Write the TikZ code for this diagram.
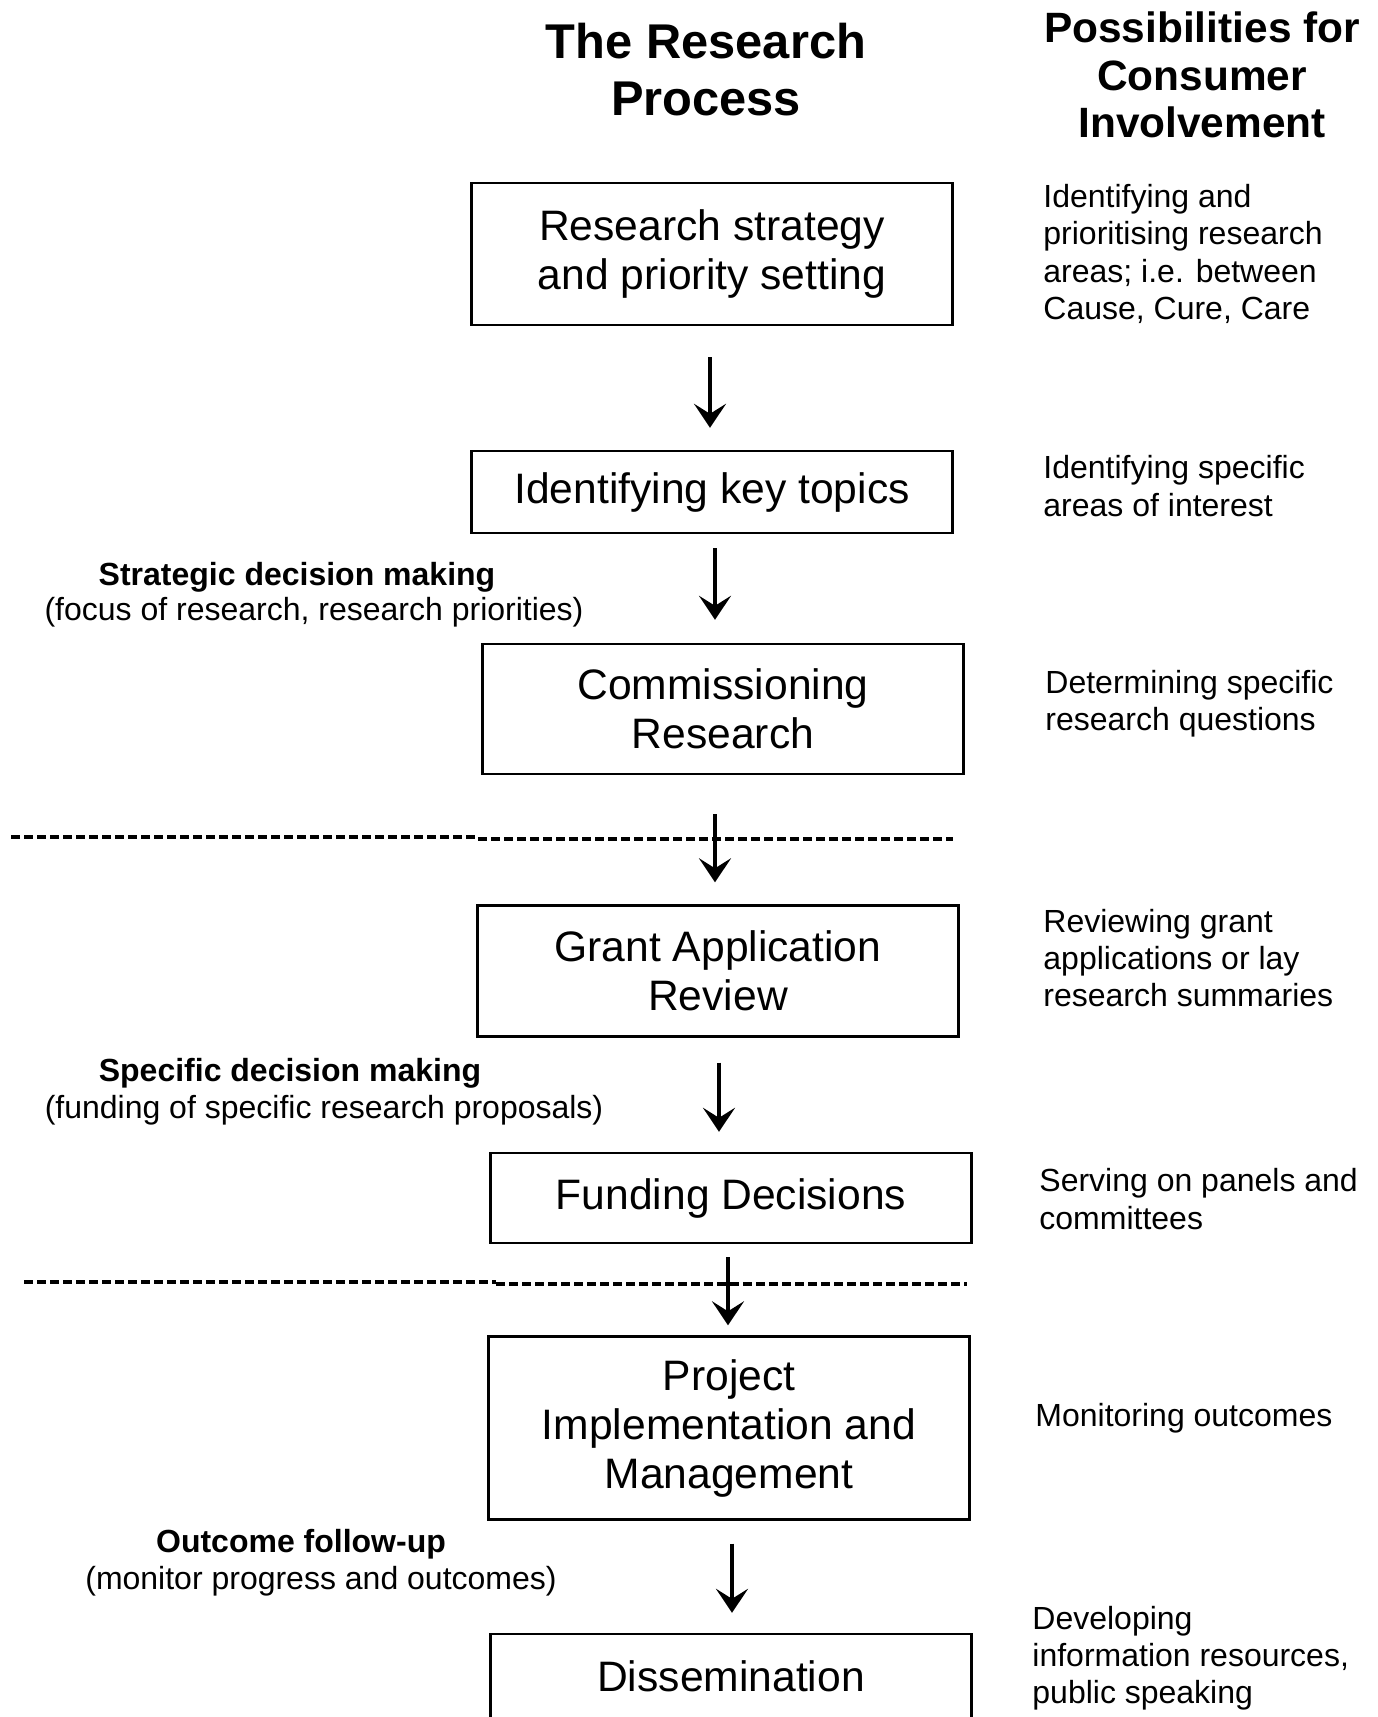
\documentclass[tikz,border=0pt]{standalone}
\usepackage{fontspec}
\setmainfont{Liberation Sans}
\usetikzlibrary{arrows.meta}
\tikzset{>={Stealth[length=12pt,width=16pt,inset=5pt]}}

\begin{document}
\begin{tikzpicture}[x=0.5pt,y=-0.5pt,
  stage/.style={draw, line width=1.2pt, minimum width=240.5pt, inner sep=0pt,
    align=center, font=\fontsize{21.3}{24.5}\selectfont},
  involve/.style={anchor=west, align=left, inner sep=0pt,
    font=\fontsize{16}{18.6}\selectfont},
  decision/.style={inner sep=0pt, font=\fontsize{16}{17.5}\selectfont},
  decisionhead/.style={decision, font=\bfseries\fontsize{16}{17.5}\selectfont},
  heading/.style={align=center, inner sep=0pt, font=\bfseries\fontsize{24.4}{28.5}\selectfont},
  flow/.style={->, line width=1.7pt},
  split/.style={line width=1.6pt, dash pattern=on 4.5pt off 2pt}]

\useasboundingbox (0,0) rectangle (1377,1717);

\node[heading] (title) at (706,70) {The Research\\Process};
\node[heading, font=\bfseries\fontsize{21.2}{23.8}\selectfont] (side) at (1202,75)
  {Possibilities for\\Consumer\\Involvement};

% the stages
\node[stage, minimum height=71pt] (strategy) at (712,254) {Research strategy\\and priority setting};
\node[stage, minimum height=41pt] (topics) at (712,492) {Identifying key topics};
\node[stage, minimum height=65pt] (commission) at (723,709) {Commissioning\\Research};
\node[stage, minimum height=65.5pt] (review) at (718,971) {Grant Application\\Review};
\node[stage, minimum height=45pt] (funding) at (731,1198) {Funding Decisions};
\node[stage, minimum height=91.5pt] (project) at (729,1428) {Project\\Implementation and\\Management};
\node[stage, minimum height=42pt] (dissem) at (731,1676) {Dissemination};

% consumer involvement
\node[involve] (inv1) at (1043,254) {Identifying and\\prioritising research\\areas; i.e. between\\Cause, Cure, Care};
\node[involve] (inv2) at (1043,486) {Identifying specific\\areas of interest};
\node[involve] (inv3) at (1045,704) {Determining specific\\research questions};
\node[involve] (inv4) at (1043,958) {Reviewing grant\\applications or lay\\research summaries};
\node[involve] (inv5) at (1039,1199) {Serving on panels and\\committees};
\node[involve] (inv6) at (1035,1418) {Monitoring outcomes};
\node[involve] (inv7) at (1032,1658) {Developing\\information resources,\\public speaking};

% kinds of decision
\node[decisionhead] (strategic) at (297,577) {Strategic decision making};
\node[decision] (strategicnote) at (314,612) {(focus of research, research priorities)};
\node[decisionhead] (specific) at (290,1073) {Specific decision making};
\node[decision] (specificnote) at (324,1110) {(funding of specific research proposals)};
\node[decisionhead] (outcome) at (301,1544) {Outcome follow-up};
\node[decision] (outcomenote) at (321,1581) {(monitor progress and outcomes)};

\draw[split] (11,837) -- (478,837);
\draw[split] (478,839) -- (953,839);
\draw[split] (24,1282) -- (496,1282);
\draw[split] (496,1284) -- (967,1284);

\draw[flow, shorten <=15.5pt, shorten >=11pt] (strategy.south -| 710,0) -- (topics.north -| 710,0);
\draw[flow, shorten <=7pt, shorten >=11.5pt] (topics.south -| 715,0) -- (commission.north -| 715,0);
\draw[flow, shorten <=19.5pt, shorten >=11pt] (commission.south -| 715,0) -- (review.north -| 715,0);
\draw[flow, shorten <=12.5pt, shorten >=10pt] (review.south -| 719,0) -- (funding.north -| 719,0);
\draw[flow, shorten <=6.5pt, shorten >=5pt] (funding.south -| 728,0) -- (project.north -| 728,0);
\draw[flow, shorten <=11.5pt, shorten >=10pt] (project.south -| 732,0) -- (dissem.north -| 732,0);
\end{tikzpicture}
\end{document}
